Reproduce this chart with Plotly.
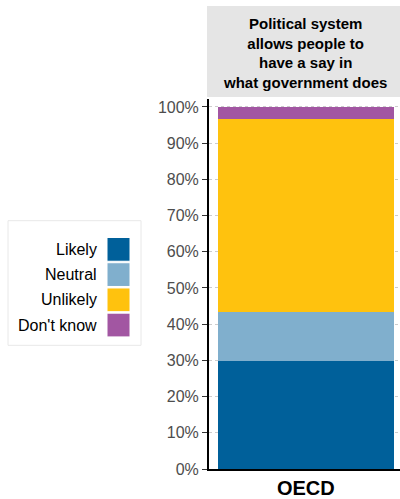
import plotly.graph_objects as go

categories = ["OECD"]
series_names = ["Likely", "Neutral", "Unlikely", "Don't know"]
likely = [29.9]
neutral = [13.6]
unlikely = [53.2]
dont_know = [3.3]
series_values = [likely, neutral, unlikely, dont_know]
colors = ["#00609a", "#80afcd", "#ffc20e", "#a256a2"]
tick_vals = [0, 10, 20, 30, 40, 50, 60, 70, 80, 90, 100]
tick_text = ["0%", "10%", "20%", "30%", "40%", "50%", "60%", "70%", "80%", "90%", "100%"]
panel_title = "Political system<br>allows people to<br>have a say in<br>what government does"

W, H = 400, 499
ML, MR, MT, MB = 209, 0, 99, 26
ph = H - MT - MB

fig = go.Figure()
for name, vals, col in zip(series_names, series_values, colors):
    fig.add_trace(go.Bar(x=categories, y=vals, name=name, marker=dict(color=col, line=dict(width=0)),
                         width=0.92, showlegend=False, hoverinfo="skip"))

fig.update_layout(
    barmode="stack",
    width=W, height=H,
    margin=dict(l=ML, r=MR, t=MT, b=MB),
    plot_bgcolor="white", paper_bgcolor="white",
    font=dict(family="Liberation Sans, Arial, sans-serif"),
    xaxis=dict(showline=True, linecolor="black", linewidth=2, ticks="", showgrid=False,
               tickfont=dict(size=20, color="black", family="Liberation Sans, Arial, sans-serif"),
               tickprefix="<b>", ticksuffix="</b>", range=[-0.507, 0.493]),
    yaxis=dict(range=[0, 102.2], tickvals=tick_vals, ticktext=tick_text, showline=True,
               linecolor="black", linewidth=2, ticks="outside", ticklen=5, tickcolor="#333333",
               tickfont=dict(size=16, color="#4d4d4d"), showgrid=True, gridcolor="#cccccc",
               griddash="dot", gridwidth=1, zeroline=False),
)

# facet strip header
fig.add_shape(type="rect", xref="paper", yref="paper", x0=-2/191, x1=1,
              y0=1 + 2/ph, y1=1 + 94/ph, fillcolor="#e5e5e5", line=dict(width=0), layer="below")
fig.add_annotation(xref="paper", yref="paper", x=0.5, y=1 + 46/ph, text="<b>" + panel_title + "</b>",
                   showarrow=False, font=dict(size=15, color="black"), xanchor="center", yanchor="middle")

# manual legend (swatches on the right)
def px_x(x):
    return (x - ML) / (W - ML - MR)

def px_y(y):
    return (H - MB - y) / ph

fig.add_shape(type="rect", xref="paper", yref="paper", x0=px_x(8), x1=px_x(141), y0=px_y(348), y1=px_y(222),
              line=dict(color="#e8e8e8", width=1), fillcolor="white")
for i, (name, col) in enumerate(zip(series_names, colors)):
    top = 239 + i * 25.5
    fig.add_shape(type="rect", xref="paper", yref="paper", x0=px_x(107), x1=px_x(130),
                  y0=px_y(top + 24), y1=px_y(top), fillcolor=col, line=dict(color="white", width=1))
    fig.add_annotation(xref="paper", yref="paper", x=px_x(99), y=px_y(top + 12), text=name,
                       showarrow=False, xanchor="right", yanchor="middle",
                       font=dict(size=16, color="black"))

fig.write_html("out.html", config={"displayModeBar": False},
               post_script="document.body.style.margin='0';document.body.style.padding='0';")
